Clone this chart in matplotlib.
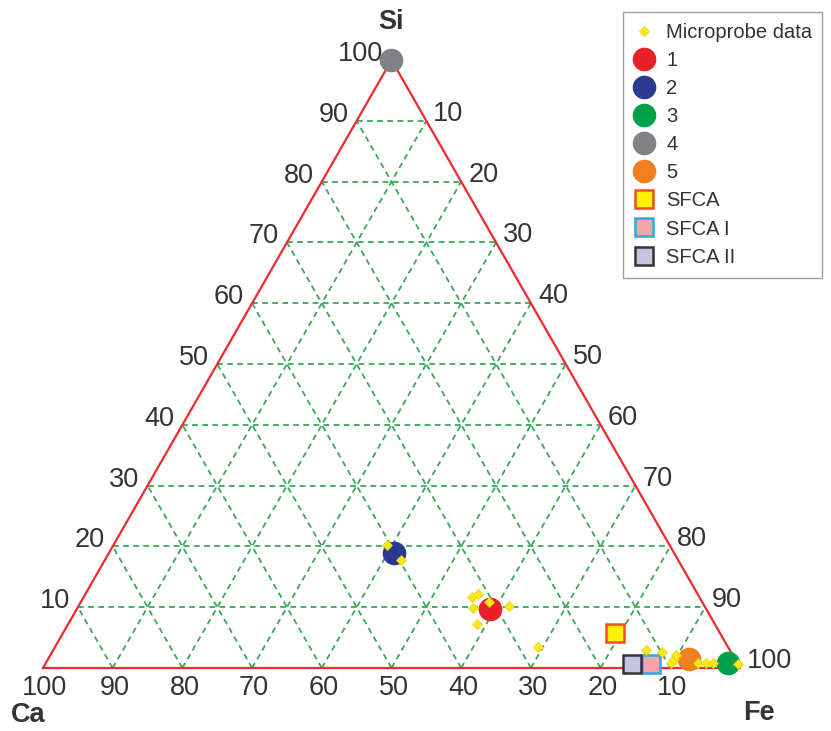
import numpy as np
import matplotlib
matplotlib.use("Agg")
import matplotlib.pyplot as plt
import matplotlib.transforms as mtransforms

# ternary data in percent: Si (top), Fe (bottom right), Ca = 100 - Si - Fe
probe_si = [11.7, 12.2, 9.9, 10.9, 10.2, 7.2, 3.5, 20.2, 17.8,
            3.0, 2.6, 0.8, 1.5, 2.1, 0.8, 0.8, 0.8, 0.6]
probe_fe = [55.7, 56.3, 56.8, 58.6, 61.8, 58.7, 69.2, 39.3, 42.5,
            85.0, 87.5, 89.7, 89.8, 89.8, 93.6, 94.7, 95.7, 99.4]

sample_names = ["1", "2", "3", "4", "5"]
sample_si = [9.7, 18.9, 0.8, 100.0, 1.5]
sample_fe = [59.3, 40.9, 97.9, 0.0, 91.9]
sample_colors = ["#e8202a", "#2b3990", "#00a04b", "#808285", "#f07f1f"]

phase_names = ["SFCA", "SFCA I", "SFCA II"]
phase_si = [5.8, 0.7, 0.7]
phase_fe = [79.2, 86.9, 84.1]
phase_face = ["#fff200", "#f4a7a9", "#c5c3e0"]
phase_edge = ["#f04e23", "#29abe2", "#333333"]

ticks = [10, 20, 30, 40, 50, 60, 70, 80, 90, 100]
H = np.sqrt(3) / 2


def tern(si, fe):
    si = np.asarray(si, float) / 100
    fe = np.asarray(fe, float) / 100
    return fe + si / 2, si * H


font = ["Liberation Sans Narrow", "Liberation Sans", "DejaVu Sans"]
txt_col = "#333333"

fig = plt.figure(figsize=(8.31, 7.31), dpi=100)
ax = fig.add_axes([0, 0, 1, 1])
ax.set_xlim(-43 / 697, (831 - 43) / 697)
ax.set_ylim(-63 / 702, (731 - 63) / 702)
ax.axis("off")

# grid
grid_kw = dict(color="#3aa85a", lw=1.3, ls=(0, (3.2, 2.4)), zorder=1)
for v in range(10, 100, 10):
    # constant Si
    x, y = tern([v, v], [0, 100 - v])
    ax.plot(x, y, **grid_kw)
    # constant Fe
    x, y = tern([0, 100 - v], [v, v])
    ax.plot(x, y, **grid_kw)
    # constant Ca
    x, y = tern([0, 100 - v], [100 - v, 0])
    ax.plot(x, y, **grid_kw)

# triangle
x, y = tern([0, 0, 100, 0], [0, 100, 0, 0])
ax.plot(x, y, color="#ee2a2e", lw=1.6, zorder=2)

# tick labels
def off(dx, dy):
    return mtransforms.offset_copy(ax.transData, fig, x=dx, y=dy, units="dots")

for t in ticks:
    # Ca along bottom
    x, y = tern(0, 100 - t)
    ax.text(x, y, str(t), transform=off(2, -7), ha="center", va="top",
            fontsize=19.5, family=font, color=txt_col)
    # Si along left edge
    x, y = tern(t, 0)
    ax.text(x, y, str(t), transform=off(-8, 6), ha="right", va="center",
            fontsize=19.5, family=font, color=txt_col)
    # Fe along right edge
    x, y = tern(100 - t, t)
    ax.text(x, y, str(t), transform=off(7, 7), ha="left", va="center",
            fontsize=19.5, family=font, color=txt_col)

ax.text(*tern(100, 0), "Si", transform=off(0, 38), ha="center", va="center",
        fontsize=19.5, family=font, weight="bold", color=txt_col)
ax.text(*tern(0, 0), "Ca", transform=off(-15, -47), ha="center", va="center",
        fontsize=19.5, family=font, weight="bold", color=txt_col)
ax.text(*tern(0, 100), "Fe", transform=off(19, -45), ha="center", va="center",
        fontsize=19.5, family=font, weight="bold", color=txt_col)

# data
x, y = tern(probe_si, probe_fe)
ax.plot(x, y, "D", ms=5.5, color="#f7e81c", mec="#e8d000", mew=0.5,
        ls="none", zorder=6, label="Microprobe data")
for name, si, fe, c in zip(sample_names, sample_si, sample_fe, sample_colors):
    x, y = tern([si], [fe])
    ax.plot(x, y, "o", ms=16, color=c, mec=c, ls="none", zorder=4, label=name)
for name, si, fe, fc, ec in zip(phase_names, phase_si, phase_fe, phase_face, phase_edge):
    x, y = tern([si], [fe])
    ax.plot(x, y, "s", ms=13, mfc=fc, mec=ec, mew=1.8, ls="none", zorder=5, label=name)

leg = ax.legend(loc="upper left",
                bbox_to_anchor=(623 / 831, 1 - 12 / 731 - 0.01, 199 / 831, 0.01),
                bbox_transform=fig.transFigure, mode="expand", borderaxespad=0,
                frameon=True, fancybox=False, edgecolor="#888888",
                prop={"family": font, "size": 14.5}, labelspacing=0.45,
                handlelength=1.0, handletextpad=0.6, borderpad=0.55)
leg.get_frame().set_linewidth(1.0)
for t in leg.get_texts():
    t.set_color(txt_col)

fig.savefig("out.png", dpi=100)
